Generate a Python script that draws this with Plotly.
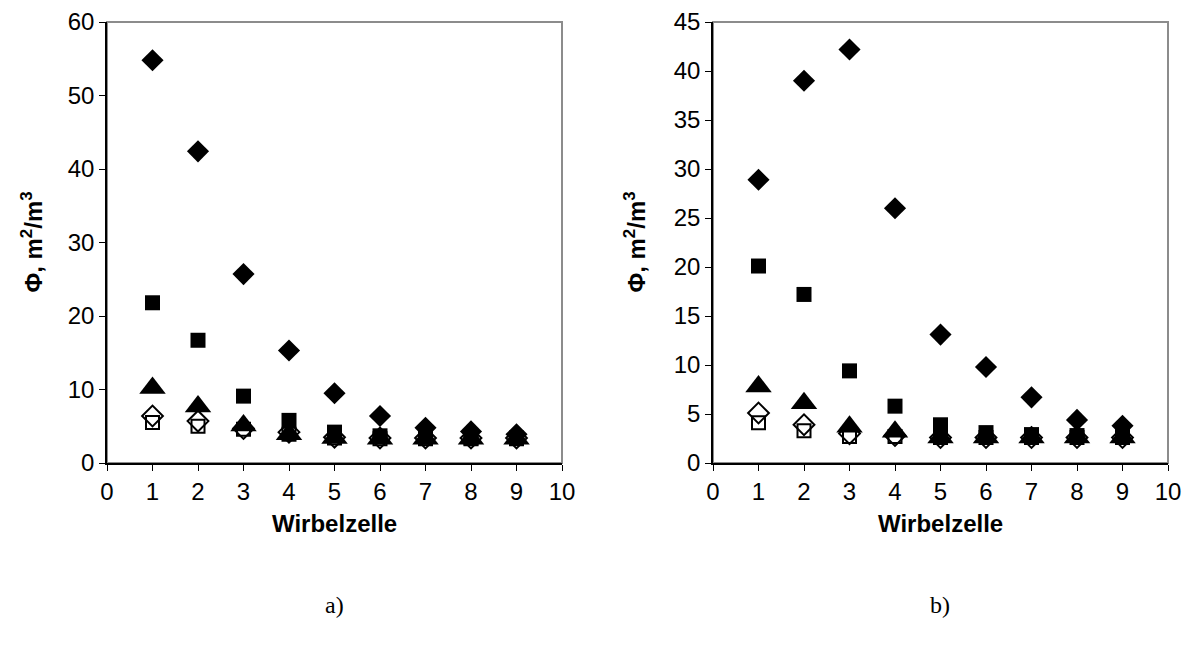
import plotly.graph_objects as go

# Wirbelzelle index (x) for both panels
cells = [1, 2, 3, 4, 5, 6, 7, 8, 9]

# Panel a) specific surface Φ (m²/m³)
a_diamond_filled = [54.8, 42.4, 25.7, 15.3, 9.5, 6.4, 4.8, 4.3, 3.9]
a_square_filled = [21.8, 16.7, 9.1, 5.8, 4.2, 3.7, 3.5, 3.4, 3.4]
a_triangle = [10.2, 7.7, 5.1, 3.9, 3.4, 3.3, 3.3, 3.3, 3.3]
a_diamond_open = [6.4, 5.7, 4.7, 4.2, 3.5, 3.4, 3.4, 3.4, 3.4]
a_square_open = [5.5, 5.0, 4.6, 3.9, 3.4, 3.3, 3.3, 3.3, 3.3]

# Panel b) specific surface Φ (m²/m³)
b_diamond_filled = [28.9, 39.0, 42.2, 26.0, 13.1, 9.8, 6.7, 4.4, 3.8]
b_square_filled = [20.1, 17.2, 9.4, 5.8, 3.9, 3.1, 2.9, 2.8, 2.8]
b_triangle = [7.8, 6.1, 3.7, 3.2, 2.6, 2.6, 2.6, 2.6, 2.6]
b_diamond_open = [5.1, 3.9, 3.0, 2.8, 2.6, 2.6, 2.6, 2.6, 2.6]
b_square_open = [4.1, 3.3, 2.7, 2.7, 2.6, 2.6, 2.6, 2.6, 2.6]

x_ticks = list(range(0, 11))
a_y_ticks = list(range(0, 61, 10))
b_y_ticks = list(range(0, 46, 5))

FONT = "Liberation Sans, Arial, sans-serif"

styles = [
    dict(symbol="diamond", size=17, color="black", line=dict(width=0)),
    dict(symbol="square", size=15, color="black", line=dict(width=0)),
    dict(symbol="triangle-up", size=23, color="black", line=dict(width=0)),
    dict(symbol="diamond-open", size=16, color="black", line=dict(width=2, color="black")),
    dict(symbol="square-open", size=13, color="black", line=dict(width=2, color="black")),
]

fig = go.Figure()

panels = [
    ("x", "y", [a_diamond_filled, a_square_filled, a_triangle, a_diamond_open, a_square_open]),
    ("x2", "y2", [b_diamond_filled, b_square_filled, b_triangle, b_diamond_open, b_square_open]),
]
for xa, ya, series in panels:
    for vals, st in zip(series, styles):
        fig.add_trace(go.Scatter(
            x=cells, y=vals, mode="markers", xaxis=xa, yaxis=ya,
            marker=st, showlegend=False, cliponaxis=False,
        ))

W, H = 1193, 664
PLOT_TOP, PLOT_BOTTOM = 22, 463
y_dom = [1 - PLOT_BOTTOM / H, 1 - PLOT_TOP / H]
xa_dom = [107 / W, 562 / W]
xb_dom = [713 / W, 1168 / W]

axis_common = dict(
    showgrid=False, zeroline=False, showline=True, linecolor="black", linewidth=1.5,
    ticks="outside", ticklen=6, tickwidth=1.2, tickcolor="black",
    tickfont=dict(family=FONT, size=24, color="black"), automargin=False,
)

fig.update_layout(
    width=W, height=H, margin=dict(l=0, r=0, t=0, b=0),
    paper_bgcolor="white", plot_bgcolor="white",
    xaxis=dict(domain=xa_dom, anchor="y", range=[0, 10], tickvals=x_ticks, **axis_common),
    yaxis=dict(domain=y_dom, anchor="x", range=[0, 60], tickvals=a_y_ticks, **axis_common),
    xaxis2=dict(domain=xb_dom, anchor="y2", range=[0, 10], tickvals=x_ticks, **axis_common),
    yaxis2=dict(domain=y_dom, anchor="x2", range=[0, 45], tickvals=b_y_ticks, **axis_common),
)

# grey plot-area frame (top and right edges)
for xr, yr in (("x domain", "y domain"), ("x2 domain", "y2 domain")):
    fig.add_shape(type="rect", xref=xr, yref=yr, x0=0, x1=1, y0=0, y1=1,
                  line=dict(color="#8c8c8c", width=2), layer="below")

ytitle = "<b>Φ, m<sup>2</sup>/m<sup>3</sup></b>"
y_mid = (y_dom[0] + y_dom[1]) / 2
annos = [
    dict(text="<b>Wirbelzelle</b>", x=(xa_dom[0] + xa_dom[1]) / 2, y=1 - 523 / H),
    dict(text="<b>Wirbelzelle</b>", x=(xb_dom[0] + xb_dom[1]) / 2, y=1 - 523 / H),
    dict(text=ytitle, x=31 / W, y=y_mid, textangle=-90),
    dict(text=ytitle, x=634 / W, y=y_mid, textangle=-90),
]
for a in annos:
    fig.add_annotation(xref="paper", yref="paper", showarrow=False,
                       xanchor="center", yanchor="middle",
                       font=dict(family=FONT, size=24, color="black"), **a)

for label, xc in (("a)", 334), ("b)", 940)):
    fig.add_annotation(text=label, xref="paper", yref="paper", x=xc / W, y=1 - 605 / H,
                       showarrow=False, xanchor="center", yanchor="middle",
                       font=dict(family="Liberation Serif, Times New Roman, serif", size=24, color="black"))

fig.write_html("out.html")
